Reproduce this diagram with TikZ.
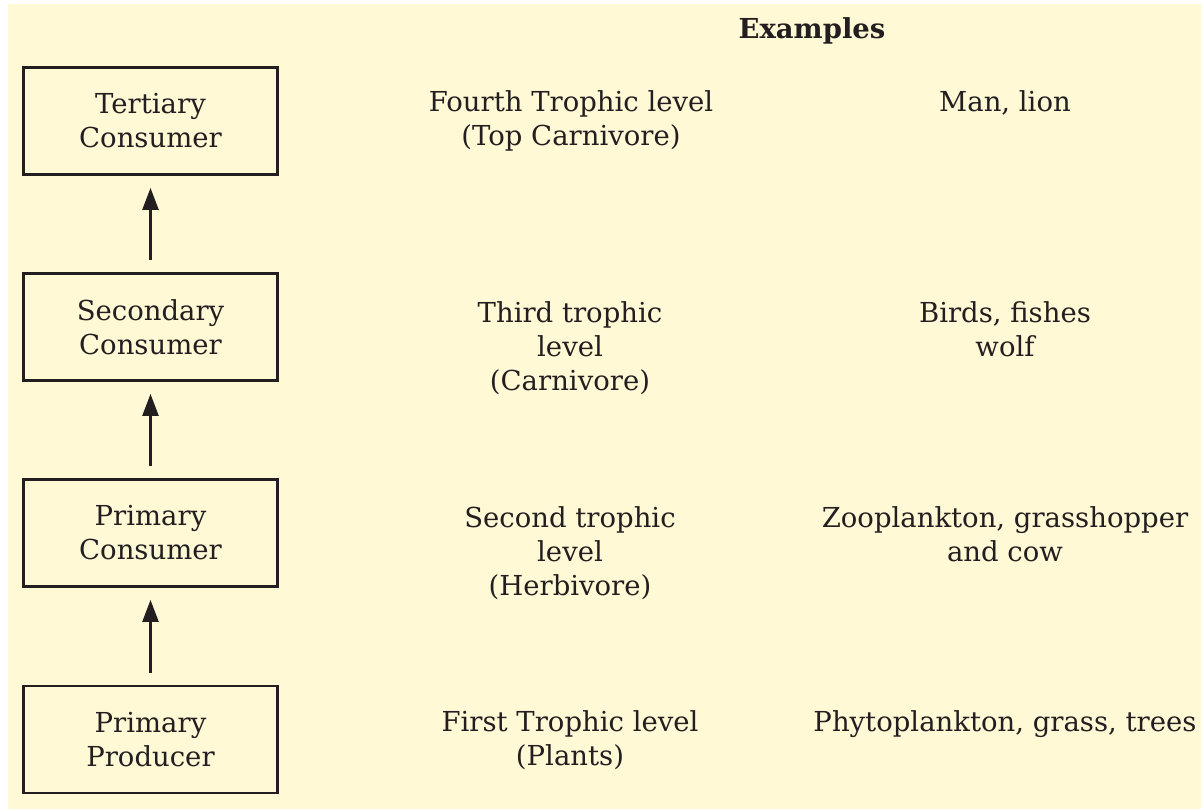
\documentclass[tikz,border=0pt]{standalone}
\usepackage{fontspec}
\setmainfont{DejaVu Serif}
\usetikzlibrary{arrows.meta}
\definecolor{bg}{RGB}{255,249,214}
\definecolor{ink}{RGB}{35,31,32}
\begin{document}
\begin{tikzpicture}[x=1pt,y=-1pt,
  box/.style={draw=ink, line width=2.8pt, minimum width=254pt, minimum height=107pt, inner sep=0pt, align=center, font=\fontsize{27.5}{34}\selectfont, text=ink},
  lbl/.style={align=center, inner sep=0pt, anchor=north, font=\fontsize{27.5}{34}\selectfont, text=ink},
  uparrow/.style={-{Triangle[length=22pt,width=16pt]}, line width=2.4pt, draw=ink, shorten <=12pt, shorten >=12pt}]
\useasboundingbox (0,0) rectangle (1201,809);
\fill[white] (0,0) rectangle (1201,809);
\fill[bg] (8,4) rectangle (1201,809);

\node[lbl, anchor=center, font=\fontsize{27.5}{34}\selectfont\bfseries] (head) at (812,31) {Examples};

\node[box] (b1) at (150.5,121) {Tertiary\\Consumer};
\node[box] (b2) at (150.5,327) {Secondary\\Consumer};
\node[box] (b3) at (150.5,533) {Primary\\Consumer};
\node[box] (b4) at (150.5,739.5) {Primary\\Producer};

\draw[uparrow] (b2.north) -- (b1.south);
\draw[uparrow] (b3.north) -- (b2.south);
\draw[uparrow] (b4.north) -- (b3.south);

\node[lbl] (m1) at (571,90) {Fourth Trophic level\\(Top Carnivore)};
\node[lbl] (m2) at (570,301) {Third trophic\\level\\(Carnivore)};
\node[lbl] (m3) at (570,506) {Second trophic\\level\\(Herbivore)};
\node[lbl] (m4) at (570,710) {First Trophic level\\(Plants)};

\node[lbl] (e1) at (1005,90) {Man, lion};
\node[lbl] (e2) at (1005,301) {Birds, fishes\\wolf};
\node[lbl] (e3) at (1005,506) {Zooplankton, grasshopper\\and cow};
\node[lbl] (e4) at (1005,710) {Phytoplankton, grass, trees};
\end{tikzpicture}
\end{document}
